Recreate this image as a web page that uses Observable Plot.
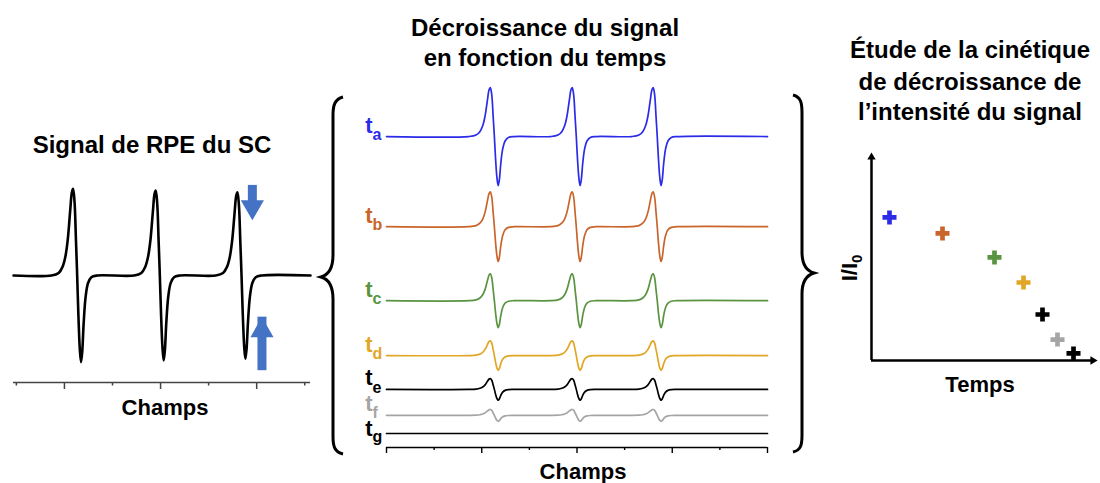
<!DOCTYPE html>
<html><head><meta charset="utf-8">
<script src="https://cdn.jsdelivr.net/npm/d3@7"></script>
<script src="https://cdn.jsdelivr.net/npm/@observablehq/plot@0.6"></script>
<style>
html,body{margin:0;padding:0;background:#fff;}
#fig{position:relative;width:1100px;height:483px;overflow:hidden;font-family:"Liberation Sans",Arial,Helvetica,sans-serif;color:#000;}
.lbl{position:absolute;transform:translate(-50%,-50%);font-weight:bold;white-space:nowrap;line-height:1;}
.panel{position:absolute;}
</style></head><body><div id="fig"></div>
<script>
// ---------------- data ----------------
// field axis (arbitrary units) and ticks
const fieldTicksMajor = [0, 2, 4, 6, 8];
const fieldTicksMinor = [1, 3, 5, 7];
const rpeTicksMajor = [2, 4, 6];
const rpeTicksMinor = [1, 3, 5, 7];
// positive-lobe position of the three nitroxide lines
const lineCenters = [2.18, 3.90, 5.60];
// first-derivative line shape (offset from lobe, normalised intensity)
const shapeDx = [-0.45, -0.30, -0.22, -0.16, -0.11, -0.06, -0.025, 0, 0.03, 0.06, 0.085, 0.11, 0.14, 0.165, 0.19, 0.22, 0.26, 0.31, 0.38, 0.50];
const shapeY  = [0, 0.03, 0.10, 0.22, 0.42, 0.75, 0.96, 1.0, 0.85, 0.40, 0, -0.45, -0.85, -1.0, -0.88, -0.55, -0.25, -0.09, -0.02, 0];
// left panel: EPR signal of the spin probe
const rpeFieldRange = [0.94, 7.12];
const rpeAmplitudes = [1.02, 1.0, 0.98];
// arrows on the third line (field, tail, tip)
const rpeArrowDown = [{field: 5.91, tail: 1.06, tip: 0.65}];
const rpeArrowUp = [{field: 6.11, tail: -0.92, tip: -0.49}];
// middle panel: decay of the signal
const seriesNames = ["a", "b", "c", "d", "e", "f", "g"];
const seriesColors = ["#2b2be8", "#c9652a", "#5a9440", "#e2a626", "#000000", "#a5a5a5", "#000000"];
const seriesOffsets = [6.06, 4.22, 2.71, 1.59, 0.90, 0.37, 0];
const seriesAmplitudes = [1.0, 0.71, 0.55, 0.30, 0.22, 0.12, 0];
const decayFieldRange = [0, 8];
// right panel: kinetics
const kineticTime  = [0.9, 3.55, 6.15, 7.6, 8.55, 9.3, 10.1];
const kineticRatio = [0.894, 0.794, 0.644, 0.4875, 0.2875, 0.131, 0.044];

// ---------------- build ----------------
function trace(amplitudes, offset, range, name, color) {
  const pts = [{field: range[0], value: offset, name, color}];
  lineCenters.forEach((c, i) => {
    const a = Array.isArray(amplitudes) ? amplitudes[i] : amplitudes;
    shapeDx.forEach((dx, j) => pts.push({field: c + dx, value: offset + a * shapeY[j], name, color}));
  });
  pts.push({field: range[1], value: offset, name, color});
  return pts;
}
const fig = document.getElementById("fig");
const font = '"Liberation Sans", Arial, sans-serif';
function place(node, left, top) {
  node.classList.add("panel");
  node.style.left = left + "px";
  node.style.top = top + "px";
  fig.appendChild(node);
}
function label(html, x, y, size, extra = "") {
  const d = document.createElement("div");
  d.className = "lbl";
  d.style.left = x + "px"; d.style.top = y + "px"; d.style.fontSize = size + "px";
  if (extra) d.style.cssText += extra;
  d.innerHTML = html;
  fig.appendChild(d);
}
const blue = "#4472c4";

// Left panel
const rpeY = [-1.259, 1.353];
const left = Plot.plot({
  width: 330, height: 250, marginLeft: 13, marginRight: 20, marginTop: 10, marginBottom: 18,
  x: {domain: rpeFieldRange, axis: null},
  y: {domain: rpeY, axis: null},
  style: {background: "transparent", overflow: "visible", fontFamily: font},
  marks: [
    Plot.ruleY([rpeY[0]], {stroke: "#444", strokeWidth: 1.6}),
    Plot.axisX(rpeTicksMajor, {anchor: "bottom", tickSize: 7, stroke: "#444", strokeWidth: 1.5, fill: "none"}),
    Plot.axisX(rpeTicksMinor, {anchor: "bottom", tickSize: 3.5, stroke: "#444", strokeWidth: 1.5, fill: "none"}),
    Plot.line(trace(rpeAmplitudes, 0, rpeFieldRange, "rpe", "#000"), {x: "field", y: "value", stroke: "#000", strokeWidth: 2.6, curve: "catmull-rom"}),
    Plot.ruleX(rpeArrowDown, {x: "field", y1: "tail", y2: "tip", stroke: blue, strokeWidth: 9, insetBottom: 17}),
    Plot.dot(rpeArrowDown, {x: "field", y: "tip", symbol: "triangle", r: 8.6, fill: blue, stroke: "none", rotate: 180, dy: -13.3}),
    Plot.ruleX(rpeArrowUp, {x: "field", y1: "tail", y2: "tip", stroke: blue, strokeWidth: 9, insetTop: 17}),
    Plot.dot(rpeArrowUp, {x: "field", y: "tip", symbol: "triangle", r: 8.6, fill: blue, stroke: "none", dy: 13.3})
  ]
});
place(left, 0, 150);

// Middle panel
const decayY = [-0.286, 7.204];
const rows = seriesNames.map((name, i) => ({name, color: seriesColors[i], offset: seriesOffsets[i], amp: seriesAmplitudes[i]}));
const decayPts = rows.flatMap(r => trace(r.amp, r.offset, decayFieldRange, r.name, r.color));
const tOpts = {frameAnchor: "left", y: "offset", text: () => "t", fill: "color", fontSize: 22, fontWeight: "bold", textAnchor: "end", dx: -14};
const sOpts = {frameAnchor: "left", y: "offset", text: "name", fill: "color", fontSize: 16, fontWeight: "bold", textAnchor: "start", dx: -14};
const mid = Plot.plot({
  width: 450, height: 390, marginLeft: 56, marginRight: 13, marginTop: 10, marginBottom: 13,
  x: {domain: decayFieldRange, axis: null},
  y: {domain: decayY, axis: null},
  color: {type: "identity"},
  style: {background: "transparent", overflow: "visible", fontFamily: font},
  marks: [
    Plot.ruleY([decayY[0]], {stroke: "#000", strokeWidth: 1.5}),
    Plot.axisX(fieldTicksMajor, {anchor: "bottom", tickSize: 6, stroke: "#000", strokeWidth: 1.4, fill: "none"}),
    Plot.axisX(fieldTicksMinor, {anchor: "bottom", tickSize: 3, stroke: "#000", strokeWidth: 1.4, fill: "none"}),
    Plot.line(decayPts, {x: "field", y: "value", z: "name", stroke: "color", strokeWidth: 1.7, curve: "catmull-rom"}),
    Plot.text(rows, {...tOpts, filter: d => d.amp > 0, dy: -11}),
    Plot.text(rows, {...sOpts, filter: d => d.amp > 0, dy: -2}),
    Plot.text(rows, {...tOpts, filter: d => d.amp === 0, dy: -5}),
    Plot.text(rows, {...sOpts, filter: d => d.amp === 0, dy: 3})
  ]
});
place(mid, 330, 70);

// Right panel
const kin = kineticTime.map((t, i) => ({time: t, ratio: kineticRatio[i], color: seriesColors[i]}));
const right = Plot.plot({
  width: 270, height: 240, marginLeft: 41, marginRight: 3, marginTop: 12, marginBottom: 20,
  x: {domain: [0, 11.3], axis: null},
  y: {domain: [0, 1.3], axis: null},
  color: {type: "identity"},
  style: {background: "transparent", overflow: "visible", fontFamily: font},
  marks: [
    Plot.ruleY([0], {stroke: "#000", strokeWidth: 2.5, insetRight: 6}),
    Plot.ruleX([0], {stroke: "#000", strokeWidth: 2.5, insetTop: 6}),
    Plot.dot([0], {frameAnchor: "top-left", symbol: "triangle", r: 3.1, fill: "#000", stroke: "none", dy: 4.7}),
    Plot.dot([0], {frameAnchor: "bottom-right", symbol: "triangle", r: 3.1, fill: "#000", stroke: "none", rotate: 90, dx: -4.7}),
    Plot.dot(kin, {x: "time", y: "ratio", symbol: "cross", r: 5.9, fill: "color", stroke: "none"})
  ]
});
place(right, 830, 140);

// Braces
const ns = "http://www.w3.org/2000/svg";
const br = document.createElementNS(ns, "svg");
br.setAttribute("width", 1100); br.setAttribute("height", 483);
br.style.position = "absolute"; br.style.left = "0"; br.style.top = "0"; br.style.pointerEvents = "none";
br.innerHTML = `
<path d="M343,97 C335,99 333,105 333,115 L333,255 C333,268 328,275 321,277 C328,279 333,286 333,299 L333,437 C333,447 335,452 343,454" fill="none" stroke="#000" stroke-width="3"/>
<path d="M793,95 C801,97 802,103 802,113 L802,252 C802,265 807,271 814,273 C807,275 802,281 802,294 L802,435 C802,445 801,450 793,452" fill="none" stroke="#000" stroke-width="3"/>`;
fig.appendChild(br);

// Text
label("Signal de RPE du SC", 152, 145, 24);
label("Champs", 165, 408, 22);
label("Décroissance du signal", 545, 28, 24);
label("en fonction du temps", 545, 58, 24);
label("Champs", 583, 472, 22);
label("Étude de la cinétique", 970, 50, 24);
label("de décroissance de", 970, 82, 24);
label("l’intensité du signal", 970, 112, 24);
label("Temps", 980, 385, 22);
label('I/I<span style="font-size:15px;position:relative;top:5px">0</span>', 850, 268, 22, "transform:translate(-50%,-50%) rotate(-90deg);");
</script></body></html>
